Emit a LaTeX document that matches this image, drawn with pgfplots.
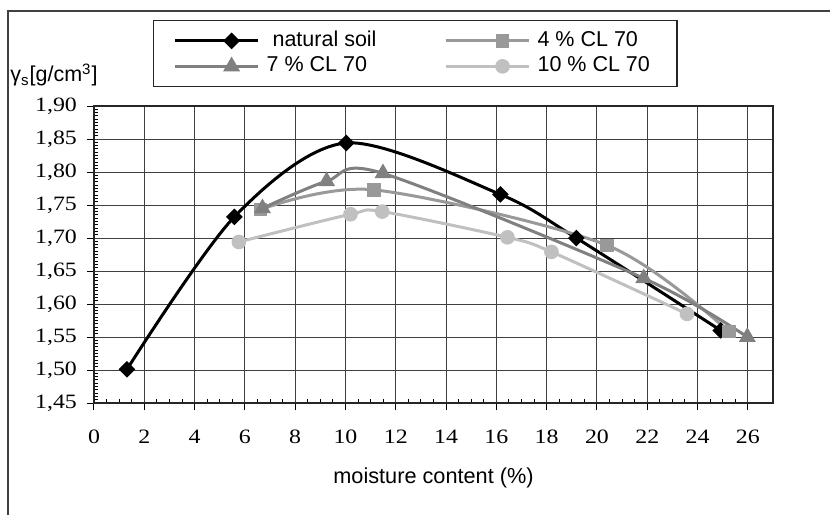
\documentclass[border=0pt]{standalone}
\usepackage{pgfplots}
\pgfplotsset{compat=1.18}
\usepackage{fontspec}
\setmainfont{Liberation Sans}
\newfontfamily\tnr[FakeStretch=1.17]{Liberation Serif}

\definecolor{clfour}{HTML}{999999}
\definecolor{clseven}{HTML}{808080}
\definecolor{clten}{HTML}{C0C0C0}

\begin{document}
\begin{tikzpicture}
\path[use as bounding box] (0,0) rectangle (415pt,257.5pt);
% outer chart frame (cropped on right and bottom)
\draw[black!75, line width=1pt] (4pt,0) -- (4pt,252.2pt) -- (415pt,252.2pt);
\node[anchor=base west, font=\fontsize{10.75}{13}\selectfont, inner sep=0pt]
  at (5pt,216.5pt) {γ\textsubscript{s}[g/cm\textsuperscript{3}]};
\begin{axis}[
    at={(47pt,56pt)}, anchor=south west,
    width=339.5pt, height=148.5pt, scale only axis,
    xmin=0, xmax=27, ymin=1.45, ymax=1.90,
    xtick={0,2,...,26},
    ytick={1.45,1.5,1.55,1.6,1.65,1.7,1.75,1.8,1.85,1.9},
    minor x tick num=3, minor y tick num=9,
    xtick pos=bottom, ytick pos=left,
    tick align=outside, major tick length=3.5pt, minor tick length=-2pt,
    grid=major, major grid style={black!75, line width=0.5pt},
    axis line style={black!85, line width=1pt},
    tick style={black, line width=0.5pt},
    /pgf/number format/assume math mode=true,
    ticklabel style={font=\tnr\fontsize{10.2}{12}\selectfont},
    xticklabel style={yshift=-6.5pt},
    yticklabel style={xshift=-1.5pt, /pgf/number format/.cd, fixed, fixed zerofill, precision=2, use comma},
    xlabel={moisture content (\%)},
    xlabel style={at={(axis description cs:0.5,-0.2525)}, anchor=center,
      font=\fontsize{10.85}{13}\selectfont},
    legend columns=2, legend cell align=left,
    legend image code/.code={
      \path (-15pt,0) -- (0pt,0);
      \draw[mark repeat=2,mark phase=2,#1] plot coordinates {(0pt,0pt) (13.25pt,0pt) (26.5pt,0pt)};
    },
    legend style={at={(axis description cs:0.0869,1.2896)}, anchor=north west,
      draw=black!85, line width=0.6pt, fill=white,
      inner xsep=10pt, inner ysep=3.75pt,
      font=\fontsize{10.75}{13}\selectfont,
      nodes={inner ysep=1.5pt, inner xsep=3.5pt, text height=7.5pt, text depth=2.25pt},
      /tikz/every even column/.append style={column sep=30.5pt}, row sep=0pt},
]
\addplot[black, line width=1.5pt, smooth, tension=0.5, mark=square*, mark size=2.2pt,
  mark options={rotate=45, solid, fill=black}] coordinates {
  (1.31,1.501) (5.58,1.732) (10.03,1.844) (16.16,1.766) (19.18,1.700) (24.92,1.560)
};
\addlegendentry{\ natural soil}
\addplot[clfour, line width=1.5pt, smooth, tension=0.5, mark=square*, mark size=2.6pt,
  mark options={solid, fill=clfour}] coordinates {
  (6.62,1.743) (11.13,1.773) (20.40,1.689) (25.25,1.558)
};
\addlegendentry{4 \% CL 70}
\addplot[clseven, line width=1.5pt, smooth, tension=0.5, mark=triangle*, mark size=3.4pt,
  mark options={solid, fill=clseven}] coordinates {
  (6.70,1.745) (9.25,1.786) (11.49,1.798) (21.86,1.639) (25.98,1.550)
};
\addlegendentry{7 \% CL 70}
\addplot[clten, line width=1.5pt, smooth, tension=0.5, mark=*, mark size=2.9pt,
  mark options={solid, fill=clten}] coordinates {
  (5.76,1.694) (10.20,1.736) (11.46,1.740) (16.44,1.701) (18.19,1.679) (23.58,1.585)
};
\addlegendentry{10 \% CL 70}
\end{axis}
\end{tikzpicture}
\end{document}
